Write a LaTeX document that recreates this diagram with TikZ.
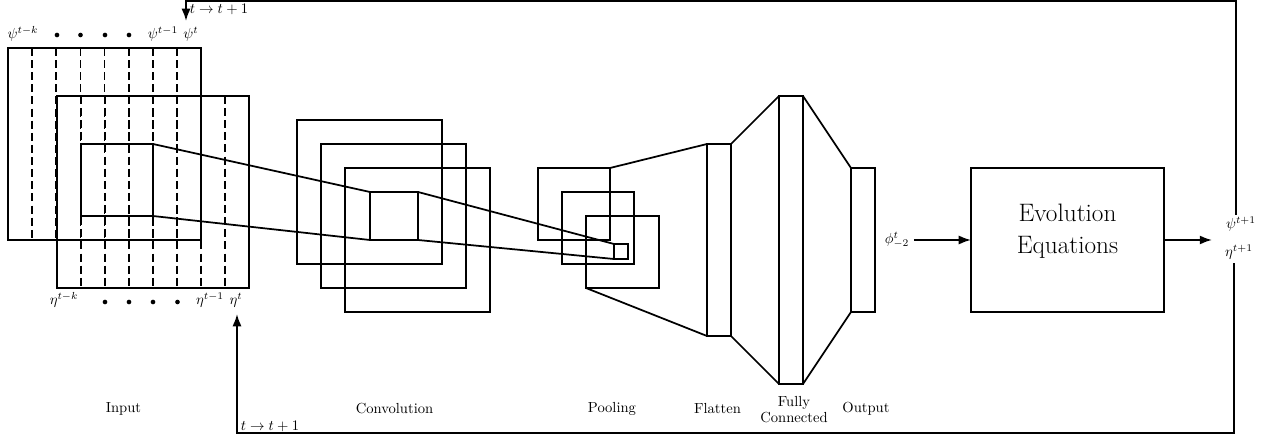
\documentclass[tikz,border=0pt]{standalone}
\usetikzlibrary{fit,calc,arrows.meta}
\begin{document}
\begin{tikzpicture}[x=0.685pt,y=-0.685pt,
  frame/.style={draw,very thick,inner sep=0pt,outer sep=0pt},
  dline/.style={very thick,dash pattern=on 5.5pt off 2.8pt},
  conn/.style={very thick},
  arr/.style={very thick,-{Latex[length=8.4pt,width=6.2pt]}},
  lbl/.style={inner sep=1pt},
  layername/.style={align=center,font=\normalsize,inner sep=1pt},
  dotmark/.style={fill=black}]
\useasboundingbox (0,0) rectangle (1271,440);

% input tensors
\node[frame,fit={(8,48)(201,240)}] (psiA) {};
\node[frame,fit={(57,96)(249,288)}] (etaA) {};
\foreach \i in {1,...,7}{
  \draw[dline] ($(psiA.north west)!\i/8!(psiA.north east)$) -- ($(psiA.south west)!\i/8!(psiA.south east)$);
  \draw[dline] ($(etaA.north west)!\i/8!(etaA.north east)$) -- ($(etaA.south west)!\i/8!(etaA.south east)$);
}
\node[frame,fit={(81,144)(153,216)}] (rf) {};

% labels of input
\node[lbl] (psik) at (23,34) {$\psi^{t-k}$};
\node[lbl] (psi1) at (163,34) {$\psi^{t-1}$};
\node[lbl] (psi0) at (191,34) {$\psi^{t}$};
\node[lbl] (etak) at (64,300) {$\eta^{t-k}$};
\node[lbl] (eta1) at (210,300) {$\eta^{t-1}$};
\node[lbl] (eta0) at (236,300) {$\eta^{t}$};
\foreach \x in {57,80.5,105,129} \fill[dotmark] (\x,35) circle (1.6pt);
\foreach \x in {105,129,153,177.5} \fill[dotmark] (\x,302) circle (1.6pt);

% convolution
\node[frame,fit={(297,120)(442,264)}] (c1) {};
\node[frame,fit={(321,144)(466,288)}] (c2) {};
\node[frame,fit={(345,168)(490,312)}] (c3) {};
\node[frame,fit={(370,192)(418,240)}] (cs) {};

% pooling
\node[frame,fit={(538,168)(610,240)}] (p1) {};
\node[frame,fit={(562,192)(634,264)}] (p2) {};
\node[frame,fit={(586,216)(659,288)}] (p3) {};
\node[frame,fit={(614,244)(628,259)}] (ps) {};

% flatten, fully connected, output
\node[frame,fit={(707,144)(731,336)}] (flat) {};
\node[frame,fit={(779,96)(803,384)}] (fc) {};
\node[frame,fit={(851,168)(875,312)}] (outl) {};

% evolution
\node[frame,fit={(971,168)(1164,312)},align=center,font=\LARGE] (evo) {Evolution\\Equations};

% connectors
\draw[conn] (rf.north east) -- (cs.north west);
\draw[conn] (rf.south east) -- (cs.south west);
\draw[conn] (cs.north east) -- (ps.north west);
\draw[conn] (cs.south east) -- (ps.south west);
\draw[conn] (p1.north east) -- (flat.north west);
\draw[conn] (p3.south west) -- (flat.south west);
\draw[conn] (flat.north east) -- (fc.north west);
\draw[conn] (flat.south east) -- (fc.south west);
\draw[conn] (fc.north east) -- (outl.north west);
\draw[conn] (fc.south east) -- (outl.south west);

\node[inner sep=3pt] (phi) at (897,240) {$\phi^{t}_{-2}$};
\draw[arr] (phi.east) -- (evo.west);
\coordinate (evoout) at (1212,240);
\draw[arr] (evo.east) -- (evoout);

\node[lbl] (psinext) at (1241,224) {$\psi^{t+1}$};
\node[inner sep=2.5pt] (etanext) at (1239,252) {$\eta^{t+1}$};

\coordinate (tr) at (1236,0.8);
\coordinate (tl) at (186,0.8);
\coordinate (tin) at (186,21);
\draw[arr] (psinext.north -| tr) -- (tr) -- (tl) -- (tin);
\node[anchor=west,inner sep=1pt] (toplab) at (188,9.5) {$t\rightarrow t+1$};

\coordinate (br) at (1234,433);
\coordinate (bl) at (237,433);
\coordinate (bin) at (237,314);
\draw[arr] (etanext.south -| br) -- (br) -- (bl) -- (bin);
\node[anchor=west,inner sep=1pt] (botlab) at (239,426) {$t\rightarrow t+1$};

% layer names
\node[layername] (lin) at (123.5,409) {Input};
\node[layername] (lconv) at (394.5,409) {Convolution};
\node[layername] (lpool) at (612,409) {Pooling};
\node[layername] (lflat) at (717.5,409) {Flatten};
\node[layername] (lfc) at (794,410) {Fully\\[-1pt]Connected};
\node[layername] (lout) at (866,409) {Output};
\end{tikzpicture}
\end{document}
